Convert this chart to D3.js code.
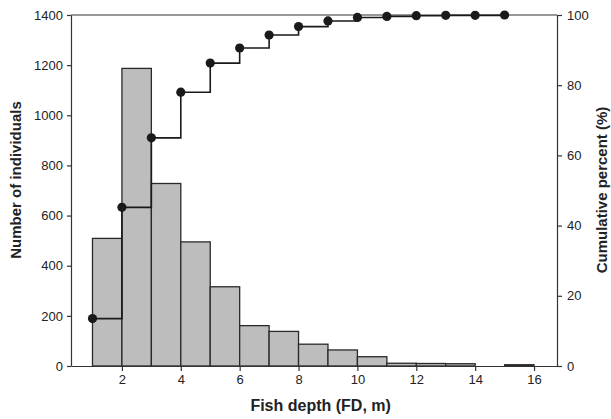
<!DOCTYPE html>
<html>
<head>
<meta charset="utf-8">
<script src="https://cdn.jsdelivr.net/npm/d3@7"></script>
<style>
  body { margin: 0; background: #fff; }
  svg { font-family: "Liberation Sans", Arial, sans-serif; }
  .axis text { font-size: 13px; fill: #222; }
  .axis path, .axis line { stroke: #333; stroke-width: 1.2; }
  .title { font-weight: bold; fill: #222; }
</style>
</head>
<body>
<svg id="chart" width="611" height="419"></svg>
<script>
// histogram bins (left edge, m) and counts
const binStarts = [1, 2, 3, 4, 5, 6, 7, 8, 9, 10, 11, 12, 13, 14, 15];
const counts = [509, 1187, 728, 495, 316, 161, 138, 87, 64, 37, 11, 10, 9, 0, 5];
// cumulative percent read at each bin's left edge
const cumPercent = [13.5, 45.2, 65.0, 78.0, 86.3, 90.6, 94.3, 96.7, 98.3, 99.3, 99.6, 99.8, 99.9, 99.9, 100];

const xTicks = [2, 4, 6, 8, 10, 12, 14, 16];
const yLeftTicks = [0, 200, 400, 600, 800, 1000, 1200, 1400];
const yRightTicks = [0, 20, 40, 60, 80, 100];

const svg = d3.select('#chart');
const margin = { top: 15, right: 54, bottom: 53, left: 71 };
const width = +svg.attr('width') - margin.left - margin.right;
const height = +svg.attr('height') - margin.top - margin.bottom;
const g = svg.append('g').attr('transform', `translate(${margin.left},${margin.top})`);

const x = d3.scaleLinear().domain([0.27, 16.78]).range([0, width]);
const y = d3.scaleLinear().domain([0, 1400]).range([height, 0]);
const y2 = d3.scaleLinear().domain([0, 100]).range([height, 0]);

// bars
g.selectAll('.bar')
    .data(binStarts)
    .enter().append('rect')
    .attr('class', 'bar')
    .attr('x', d => x(d))
    .attr('y', (d, i) => y(counts[i]))
    .attr('width', d => x(d + 1) - x(d))
    .attr('height', (d, i) => height - y(counts[i]))
    .attr('fill', '#bdbdbd')
    .attr('stroke', '#2a2a2a')
    .attr('stroke-width', 1.3);

// frame top
g.append('line')
    .attr('x1', 0).attr('x2', width)
    .attr('y1', 0).attr('y2', 0)
    .attr('stroke', '#333').attr('stroke-width', 1.2);

// axes
g.append('g')
    .attr('class', 'axis')
    .attr('transform', `translate(0,${height})`)
    .call(d3.axisBottom(x).tickValues(xTicks).tickFormat(d3.format('d'))
        .tickSize(5).tickSizeOuter(0).tickPadding(4));

g.append('g')
    .attr('class', 'axis')
    .call(d3.axisLeft(y).tickValues(yLeftTicks).tickFormat(d3.format('d'))
        .tickSize(4).tickSizeOuter(0).tickPadding(4));

g.append('g')
    .attr('class', 'axis')
    .attr('transform', `translate(${width},0)`)
    .call(d3.axisRight(y2).tickValues(yRightTicks).tickFormat(d3.format('d'))
        .tickSize(5).tickSizeOuter(0).tickPadding(5));

// cumulative step line
const pts = binStarts.map((d, i) => [d, cumPercent[i]]);
const line = d3.line()
    .x(d => x(d[0]))
    .y(d => y2(d[1]))
    .curve(d3.curveStepAfter);

g.append('path')
    .datum(pts)
    .attr('fill', 'none')
    .attr('stroke', '#1a1a1a')
    .attr('stroke-width', 1.6)
    .attr('d', line);

g.selectAll('.dot')
    .data(pts)
    .enter().append('circle')
    .attr('class', 'dot')
    .attr('cx', d => x(d[0]))
    .attr('cy', d => y2(d[1]))
    .attr('r', 4.6)
    .attr('fill', '#1a1a1a');

// titles
svg.append('text')
    .attr('class', 'title')
    .style('font-size', '16px')
    .attr('text-anchor', 'middle')
    .attr('x', margin.left + x(8.75))
    .attr('y', 411)
    .text('Fish depth (FD, m)');

svg.append('text')
    .attr('class', 'title')
    .style('font-size', '15px')
    .attr('text-anchor', 'middle')
    .attr('transform', `translate(21,180) rotate(-90)`)
    .text('Number of individuals');

svg.append('text')
    .attr('class', 'title')
    .style('font-size', '15px')
    .attr('text-anchor', 'middle')
    .attr('transform', `translate(607,190) rotate(-90)`)
    .text('Cumulative percent (%)');
</script>
</body>
</html>
